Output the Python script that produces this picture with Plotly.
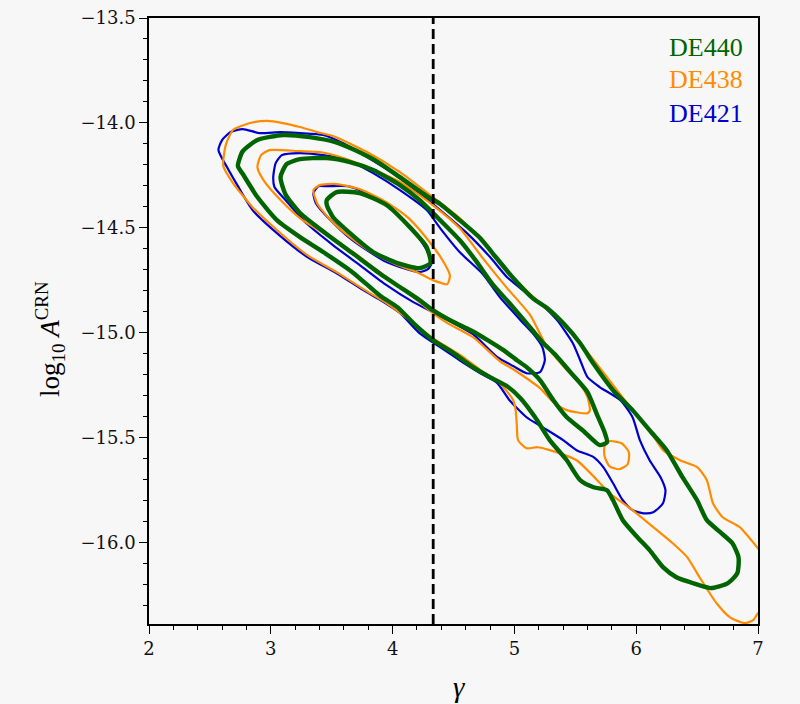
import plotly.graph_objects as go

# ---- data: credible-region contours (gamma, log10 A_CRN) ----
# DE421 (blue)
de421_c1_x = [3.35, 3.39, 3.46, 3.63, 3.79, 4.00, 4.17, 4.28, 4.32, 4.29, 4.22, 3.95, 3.67, 3.49, 3.37]
de421_c1_y = [-14.335, -14.302, -14.302, -14.302, -14.335, -14.416, -14.511, -14.607, -14.669, -14.698,
              -14.712, -14.664, -14.559, -14.464, -14.383]
de421_c2_x = [3.02, 3.04, 3.09, 3.24, 3.43, 3.63, 3.84, 4.06, 4.28, 4.39, 4.55, 4.74, 4.88, 5.05, 5.15, 5.23,
              5.25, 5.21, 5.10, 4.99, 4.86, 4.66, 4.50, 4.33, 4.17, 3.95, 3.73, 3.51, 3.29, 3.12, 3.03]
de421_c2_y = [-14.259, -14.192, -14.154, -14.144, -14.154, -14.177, -14.240, -14.321, -14.416, -14.502,
              -14.616, -14.721, -14.831, -14.941, -15.003, -15.070, -15.132, -15.189, -15.194, -15.160,
              -15.117, -15.008, -14.955, -14.903, -14.855, -14.774, -14.678, -14.583, -14.478, -14.368, -14.306]
de421_c3_x = [2.57, 2.60, 2.67, 2.77, 2.91, 3.08, 3.24, 3.43, 3.59, 3.79, 4.00, 4.22, 4.39, 4.61, 4.80, 4.94,
              5.07, 5.21, 5.35, 5.48, 5.54, 5.60, 5.70, 5.87, 5.97, 6.03, 6.11, 6.20, 6.24, 6.22, 6.14, 6.06,
              5.97, 5.89, 5.81, 5.73, 5.65, 5.51, 5.40, 5.23, 5.10, 4.96, 4.86, 4.72, 4.55, 4.39, 4.22, 4.06,
              3.90, 3.76, 3.54, 3.30, 3.05, 2.85, 2.73, 2.64]
de421_c3_y = [-14.130, -14.082, -14.044, -14.030, -14.049, -14.044, -14.049, -14.058, -14.096, -14.163,
              -14.240, -14.335, -14.416, -14.526, -14.640, -14.736, -14.798, -14.860, -14.941, -15.051,
              -15.132, -15.213, -15.260, -15.323, -15.404, -15.513, -15.609, -15.690, -15.752, -15.814,
              -15.857, -15.862, -15.847, -15.800, -15.719, -15.642, -15.594, -15.561, -15.513, -15.451,
              -15.404, -15.323, -15.241, -15.194, -15.132, -15.070, -15.003, -14.907, -14.845, -14.798,
              -14.717, -14.640, -14.526, -14.416, -14.302, -14.211]

# DE438 (orange)
de438_c1_x = [3.35, 3.40, 3.54, 3.73, 3.95, 4.14, 4.31, 4.41, 4.47, 4.45, 4.33, 4.20, 4.04, 3.84, 3.65, 3.49, 3.38]
de438_c1_y = [-14.321, -14.297, -14.292, -14.316, -14.378, -14.459, -14.573, -14.655, -14.726, -14.769,
              -14.750, -14.712, -14.678, -14.621, -14.545, -14.464, -14.383]
de438_c2_x = [2.89, 2.92, 2.99, 3.24, 3.40, 3.57, 3.79, 4.06, 4.33, 4.55, 4.74, 4.94, 5.13, 5.26, 5.43, 5.54,
              5.60, 5.62, 5.60, 5.43, 5.32, 5.21, 5.10, 4.99, 4.88, 4.66, 4.45, 4.33, 4.17, 3.95, 3.73, 3.49,
              3.26, 3.08, 2.94]
de438_c2_y = [-14.211, -14.154, -14.130, -14.135, -14.139, -14.163, -14.211, -14.282, -14.392, -14.502,
              -14.645, -14.788, -14.917, -15.060, -15.179, -15.246, -15.308, -15.370, -15.385, -15.370,
              -15.332, -15.265, -15.218, -15.175, -15.136, -15.022, -14.955, -14.907, -14.831, -14.736,
              -14.640, -14.545, -14.464, -14.368, -14.273]
de438_c2b_x = [5.78, 5.88, 5.94, 5.93, 5.86, 5.78, 5.74, 5.74]
de438_c2b_y = [-15.518, -15.528, -15.571, -15.628, -15.652, -15.637, -15.590, -15.542]
de438_c3_x = [2.61, 2.63, 2.69, 2.83, 2.97, 3.10, 3.24, 3.38, 3.51, 3.79, 4.06, 4.33, 4.55, 4.80, 4.99, 5.21,
              5.42, 5.62, 5.81, 5.97, 6.11, 6.22, 6.36, 6.50, 6.58, 6.63, 6.71, 6.85, 7.00, 7.11, 7.11, 7.00,
              6.96, 6.89, 6.77, 6.66, 6.52, 6.42, 6.30, 6.14, 5.97, 5.78, 5.68, 5.51, 5.29, 5.19, 5.10, 5.03,
              5.02, 5.01, 4.99, 4.88, 4.72, 4.58, 4.33, 4.14, 3.95, 3.76, 3.54, 3.30, 3.05, 2.85, 2.69]
de438_c3_y = [-14.206, -14.106, -14.034, -14.001, -13.991, -14.001, -14.020, -14.044, -14.063, -14.139,
              -14.235, -14.354, -14.454, -14.607, -14.736, -14.860, -14.965, -15.108, -15.251, -15.370,
              -15.466, -15.561, -15.609, -15.642, -15.704, -15.814, -15.881, -15.928, -16.029, -16.110,
              -16.301, -16.339, -16.372, -16.386, -16.358, -16.291, -16.167, -16.072, -16.005, -15.928,
              -15.847, -15.766, -15.704, -15.609, -15.561, -15.547, -15.552, -15.513, -15.442, -15.370,
              -15.323, -15.241, -15.179, -15.117, -15.027, -14.941, -14.860, -14.793, -14.712, -14.631,
              -14.511, -14.402, -14.287]

# DE440 (green)
de440_c1_x = [3.46, 3.54, 3.73, 3.95, 4.14, 4.28, 4.31, 4.22, 4.04, 3.84, 3.65, 3.51, 3.46]
de440_c1_y = [-14.368, -14.330, -14.335, -14.392, -14.497, -14.593, -14.669, -14.693, -14.669, -14.616,
              -14.526, -14.449, -14.392]
de440_c2_x = [3.08, 3.13, 3.24, 3.46, 3.65, 3.84, 4.06, 4.22, 4.39, 4.55, 4.68, 4.82, 4.96, 5.10, 5.23, 5.34,
              5.46, 5.60, 5.68, 5.74, 5.76, 5.70, 5.56, 5.43, 5.32, 5.21, 5.10, 5.02, 4.91, 4.78, 4.64, 4.50,
              4.33, 4.22, 4.06, 3.90, 3.67, 3.46, 3.24, 3.12]
de440_c2_y = [-14.259, -14.197, -14.173, -14.168, -14.187, -14.225, -14.297, -14.368, -14.464, -14.559,
              -14.655, -14.769, -14.860, -14.955, -15.046, -15.108, -15.189, -15.284, -15.394, -15.475,
              -15.523, -15.537, -15.466, -15.404, -15.323, -15.227, -15.165, -15.132, -15.084, -15.036,
              -14.989, -14.950, -14.893, -14.845, -14.783, -14.721, -14.621, -14.531, -14.430, -14.340]
de440_c3_x = [2.73, 2.77, 2.89, 3.10, 3.32, 3.53, 3.69, 3.88, 4.06, 4.28, 4.39, 4.55, 4.72, 4.82, 4.99, 5.15,
              5.27, 5.40, 5.54, 5.64, 5.81, 5.97, 6.11, 6.25, 6.38, 6.50, 6.58, 6.69, 6.79, 6.84, 6.83, 6.75,
              6.61, 6.47, 6.33, 6.22, 6.11, 6.01, 5.89, 5.81, 5.76, 5.65, 5.54, 5.43, 5.29, 5.17, 5.05, 4.94,
              4.80, 4.66, 4.50, 4.33, 4.17, 4.04, 3.90, 3.67, 3.43, 3.24, 3.05, 2.89, 2.77]
de440_c3_y = [-14.206, -14.135, -14.082, -14.058, -14.068, -14.092, -14.130, -14.187, -14.259, -14.349,
              -14.387, -14.464, -14.550, -14.621, -14.740, -14.836, -14.884, -14.955, -15.051, -15.141,
              -15.275, -15.370, -15.466, -15.561, -15.690, -15.800, -15.895, -15.952, -16.005, -16.072,
              -16.148, -16.196, -16.219, -16.196, -16.167, -16.119, -16.038, -15.976, -15.895, -15.800,
              -15.752, -15.738, -15.704, -15.609, -15.513, -15.404, -15.313, -15.256, -15.213, -15.165,
              -15.098, -15.036, -14.955, -14.879, -14.826, -14.712, -14.616, -14.545, -14.464, -14.354, -14.244]

gamma_ref = 13.0 / 3.0
x_ticks = [2, 3, 4, 5, 6, 7]
y_ticks = [-16.0, -15.5, -15.0, -14.5, -14.0, -13.5]
x_tick_text = ["2", "3", "4", "5", "6", "7"]
y_tick_text = ["\u221216.0", "\u221215.5", "\u221215.0", "\u221214.5", "\u221214.0", "\u221213.5"]
x_range = [2, 7]
y_range = [-16.39, -13.5]

labels = ["DE440", "DE438", "DE421"]
colors = {"DE440": "#006400", "DE438": "#ff8c00", "DE421": "#0000cd"}
widths = {"DE440": 4.4, "DE438": 2.2, "DE421": 2.2}

contours = {
    "DE421": [(de421_c1_x, de421_c1_y), (de421_c2_x, de421_c2_y), (de421_c3_x, de421_c3_y)],
    "DE438": [(de438_c1_x, de438_c1_y), (de438_c2_x, de438_c2_y), (de438_c2b_x, de438_c2b_y),
              (de438_c3_x, de438_c3_y)],
    "DE440": [(de440_c1_x, de440_c1_y), (de440_c2_x, de440_c2_y), (de440_c3_x, de440_c3_y)],
}

SERIF = "Liberation Serif"
TICKFONT = "DejaVu Serif"
BG = "#f7f7f7"

fig = go.Figure()
for name in ["DE421", "DE438", "DE440"]:
    for xs, ys in contours[name]:
        fig.add_trace(go.Scatter(
            x=list(xs) + [xs[0]], y=list(ys) + [ys[0]], mode="lines",
            line=dict(color=colors[name], width=widths[name], shape="spline", smoothing=0.6),
            showlegend=False, hoverinfo="skip"))

fig.add_shape(type="line", x0=gamma_ref, x1=gamma_ref, y0=0, y1=1, xref="x", yref="paper",
              line=dict(color="black", width=2.8, dash="10px,5px"))

legend_y = [0.9505, 0.8977, 0.8432]
for lab, yy in zip(labels, legend_y):
    fig.add_annotation(text=lab, xref="paper", yref="paper", x=0.979, y=yy,
                       xanchor="right", yanchor="middle", showarrow=False,
                       font=dict(family=SERIF, size=26, color=colors[lab]))

# axis titles placed as text
fig.add_annotation(text="log<sub>10</sub> <i>A</i><sup>CRN</sup>", xref="paper", yref="paper",
                   x=-0.163, y=0.47, xanchor="center", yanchor="middle", textangle=-90,
                   showarrow=False, font=dict(family=SERIF, size=27, color="black"))
fig.add_annotation(text="<i>γ</i>", xref="paper", yref="paper",
                   x=0.51, y=-0.104, xanchor="center", yanchor="middle",
                   showarrow=False, font=dict(family=SERIF, size=29, color="black"))

tick_font = dict(family=TICKFONT, size=18, color="#111111")
xaxis = dict(range=x_range, tickmode="array", tickvals=x_ticks, ticktext=x_tick_text,
             showline=True, linecolor="black", linewidth=1.6, mirror=True,
             ticks="outside", ticklen=8, tickwidth=1.4, tickcolor="black",
             showgrid=False, zeroline=False, automargin=False, tickfont=tick_font,
             minor=dict(ticks="outside", ticklen=4.5, tickwidth=1.2, tickcolor="black", dtick=0.2,
                        tick0=2, showgrid=False))
yaxis = dict(range=y_range, tickmode="array", tickvals=y_ticks, ticktext=y_tick_text,
             showline=True, linecolor="black", linewidth=1.6, mirror=True,
             ticks="outside", ticklen=8, tickwidth=1.4, tickcolor="black",
             showgrid=False, zeroline=False, automargin=False, tickfont=tick_font,
             minor=dict(ticks="outside", ticklen=4.5, tickwidth=1.2, tickcolor="black", dtick=0.1,
                        tick0=-16.0, showgrid=False))

fig.update_layout(width=800, height=704, margin=dict(l=149, r=42, t=18, b=80),
                  font=dict(family=TICKFONT, size=18, color="black"),
                  xaxis=xaxis, yaxis=yaxis,
                  paper_bgcolor=BG, plot_bgcolor=BG, showlegend=False)

fig.write_html("out.html")
